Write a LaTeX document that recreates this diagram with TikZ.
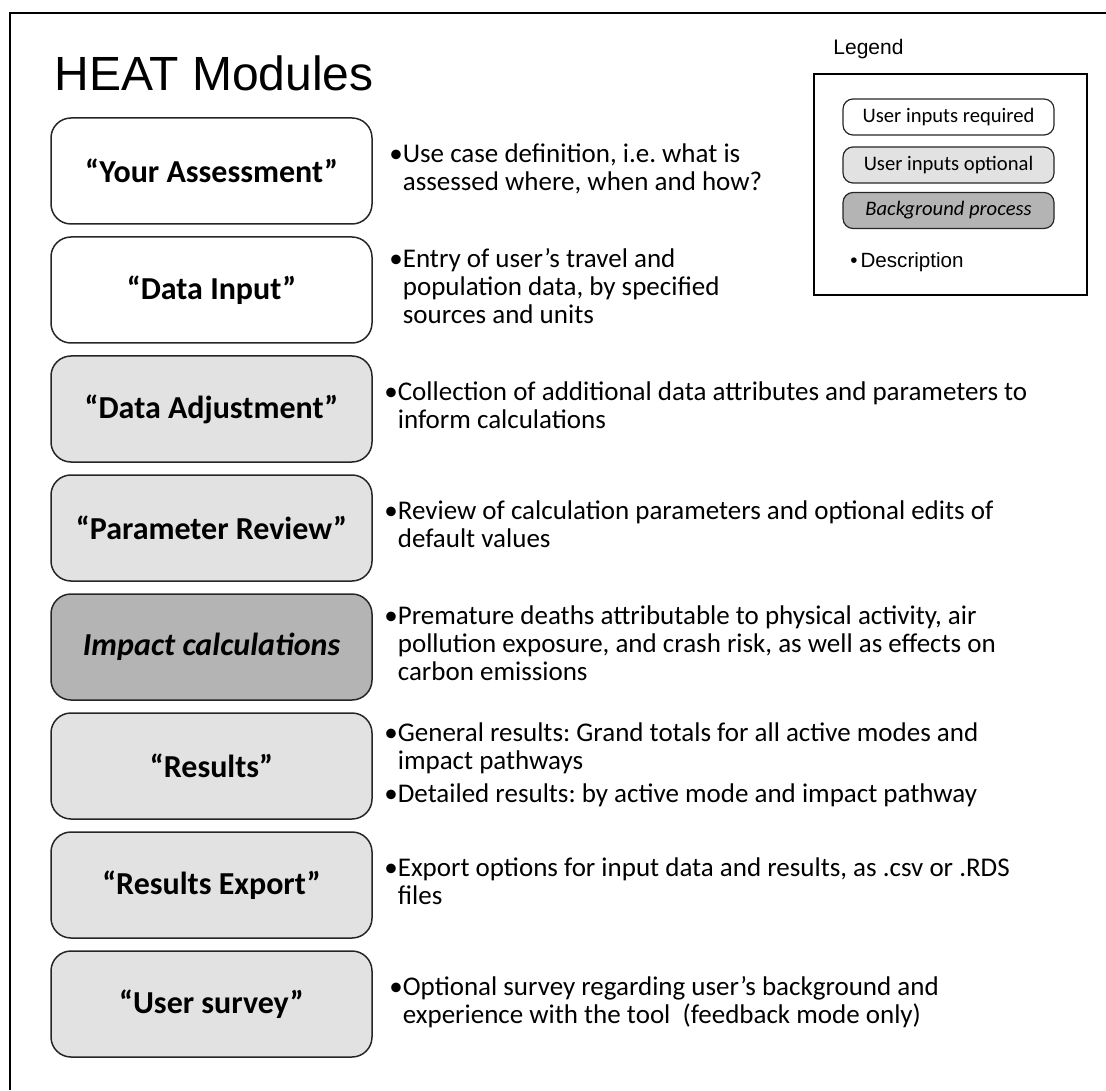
\documentclass[tikz,border=0pt]{standalone}
\usepackage{fontspec}
\setmainfont{Carlito}
\newfontfamily\arialfont{Liberation Sans}
\definecolor{optgray}{HTML}{E2E2E2}
\definecolor{bggray}{HTML}{B4B4B4}
\frenchspacing
\begin{document}
\begin{tikzpicture}[
        x=0.5pt, y=-0.5pt,
        module/.style={
            draw=black!85,
            line width=0.75pt,
            rounded corners=10pt,
            minimum width=160.5pt,
            minimum height=53pt,
            font=\fontsize{16}{19}\selectfont\bfseries
        },
        required/.style={module, fill=white},
        optional/.style={module, fill=optgray},
        background/.style={module, fill=bggray, font=\fontsize{16}{19}\selectfont\bfseries\itshape},
        desc/.style={anchor=west, inner sep=0pt, font=\fontsize{13.5}{14}\selectfont},
        legitem/.style={
            draw=black!85,
            line width=0.6pt,
            rounded corners=5pt,
            minimum width=105.5pt,
            minimum height=18pt,
            font=\fontsize{10.3}{12}\selectfont
        }
    ]
            \useasboundingbox (0,0) rectangle (1106,1090);
            \draw[line width=0.8pt] (10,1090) -- (10,13) -- (1106,13);

            \node[
                anchor=base west,
                inner sep=0pt,
                font=\arialfont\fontsize{24}{28}\selectfont,
                name=title
            ] at (54,91) {HEAT Modules};

            % legend
            \node[
                anchor=base west,
                inner sep=0pt,
                font=\arialfont\fontsize{10.5}{12}\selectfont,
                name=legendtitle
            ] at (833,55) {Legend};
            \node[
                draw,
                line width=0.75pt,
                minimum width=136.5pt,
                minimum height=110.5pt,
                name=legend
            ] at (950.5,184.5) {};
            \node[legitem, fill=white, name=legreq] at (948.5,117) {User inputs required};
            \node[legitem, fill=optgray, name=legopt] at (948.5,165) {User inputs optional};
            \node[legitem, fill=bggray, font=\fontsize{10.3}{12}\selectfont\itshape, name=legbg] at (948.5,210.5) {Background process};
            \node[
                anchor=base west,
                inner sep=0pt,
                font=\arialfont\fontsize{10.3}{12}\selectfont,
                name=legdesc
            ] at (850,268) {•\hspace{1.5pt}Description};

            % modules
            \node[required, name=assess] at (211.5,171) {“Your Assessment”};
            \node[required, name=input] at (211.5,290) {“Data Input”};
            \node[optional, name=adjust] at (211.5,409) {“Data Adjustment”};
            \node[optional, name=review] at (211.5,528) {“Parameter Review”};
            \node[background, name=impact] at (211.5,647) {Impact calculations};
            \node[optional, name=results] at (211.5,766) {“Results”};
            \node[optional, name=export] at (211.5,885) {“Results Export”};
            \node[optional, name=survey] at (211.5,1004) {“User survey”};

            % descriptions
            \node[desc, name=assessdesc] at (389,171) {\begin{tabular}{@{}l@{}l@{}}
                •&Use case definition, i.e. what is\\
                &assessed where, when and how?
            \end{tabular}};
            \node[desc, name=inputdesc] at (389,290) {\begin{tabular}{@{}l@{}l@{}}
                •&Entry of user’s travel and\\
                &population data, by specified\\
                &sources and units
            \end{tabular}};
            \node[desc, name=adjustdesc] at (384,409) {\begin{tabular}{@{}l@{}l@{}}
                •&Collection of additional data attributes and parameters to\\
                &inform calculations
            \end{tabular}};
            \node[desc, name=reviewdesc] at (384,528) {\begin{tabular}{@{}l@{}l@{}}
                •&Review of calculation parameters and optional edits of\\
                &default values
            \end{tabular}};
            \node[desc, name=impactdesc] at (384,647) {\begin{tabular}{@{}l@{}l@{}}
                •&Premature deaths attributable to physical activity, air\\
                &pollution exposure, and crash risk, as well as effects on\\
                &carbon emissions
            \end{tabular}};
            \node[desc, name=resultsdesc] at (384,766) {\begin{tabular}{@{}l@{}l@{}}
                •&General results: Grand totals for all active modes and\\
                &impact pathways\\[2.5pt]
                •&Detailed results: by active mode and impact pathway
            \end{tabular}};
            \node[desc, name=exportdesc] at (384,885) {\begin{tabular}{@{}l@{}l@{}}
                •&Export options for input data and results, as .csv or .RDS\\
                &files
            \end{tabular}};
            \node[desc, name=surveydesc] at (389,1004) {\begin{tabular}{@{}l@{}l@{}}
                •&Optional survey regarding user’s background and\\
                &experience with the tool~~(feedback mode only)
            \end{tabular}};
\end{tikzpicture}
\end{document}
